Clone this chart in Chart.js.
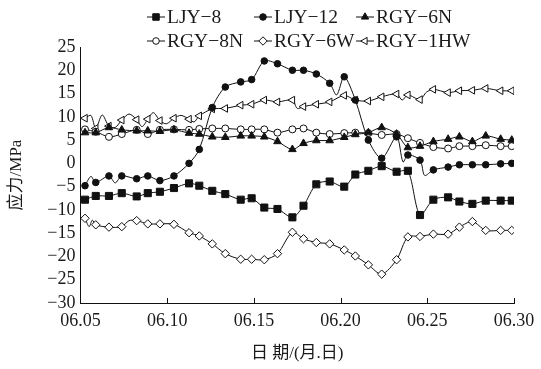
<!DOCTYPE html>
<html>
<head>
<meta charset="utf-8">
<script src="https://cdn.jsdelivr.net/npm/chart.js@4.4.1/dist/chart.umd.min.js"></script>
<style>
  html, body { margin: 0; padding: 0; background: #fff; }
  #wrap { width: 541px; height: 369px; }
</style>
</head>
<body>
<div id="wrap"><canvas id="chart"></canvas></div>
<script>
// marker positions (day of June)
const days = [5.26, 5.88, 6.64, 7.38, 8.24, 8.88, 9.58, 10.39, 11.26, 11.85, 12.6, 13.35, 14.24, 14.87, 15.6, 16.36, 17.22,
  17.86, 18.6, 19.37, 20.21, 20.85, 21.6, 22.37, 23.23, 23.88, 24.58, 25.35, 26.2, 26.85, 27.6, 28.37, 29.23, 29.87]

const ljy8 = [-7.8, -7.0, -7.0, -6.4, -7.1, -6.4, -6.1, -5.3, -4.3, -4.8, -5.9, -6.6, -7.8, -7.5, -9.5, -9.8, -11.6,
  -9.1, -4.5, -3.9, -5.0, -2.4, -1.6, -0.6, -1.8, -1.6, -11.1, -7.8, -7.3, -8.2, -8.7, -8.0, -8.0, -8.0]
const ljy12 = [-4.8, -4.1, -2.7, -2.7, -3.3, -2.7, -3.7, -2.7, 0.0, 3.0, 12.0, 16.4, 17.5, 18.0, 22.0, 21.4, 20.0,
  20.0, 19.2, 17.2, 18.6, 13.6, 5.0, 1.1, 5.7, 1.8, 0.7, -1.4, -0.8, -0.3, -0.3, -0.3, -0.1, 0.0]
const rgy6n = [6.6, 6.6, 7.7, 7.2, 7.0, 7.0, 6.9, 7.2, 6.5, 6.3, 5.7, 5.6, 5.9, 5.9, 5.7, 4.7, 3.0,
  4.3, 4.9, 4.9, 5.6, 6.2, 6.6, 7.7, 6.3, 3.4, 3.7, 4.7, 5.2, 5.7, 4.7, 5.9, 5.2, 5.0]
const rgy8n = [7.3, 6.8, 5.7, 6.3, 7.2, 6.3, 7.2, 7.3, 7.2, 7.4, 7.5, 7.5, 7.3, 7.3, 7.3, 6.6, 7.3,
  7.5, 6.6, 6.3, 6.5, 6.6, 6.5, 6.1, 6.3, 5.4, 4.4, 3.5, 3.2, 3.7, 3.7, 3.9, 3.7, 3.7]
const rgy6w = [-11.8, -13.2, -13.7, -13.6, -12.3, -13.0, -13.0, -13.1, -14.9, -15.6, -17.3, -19.4, -20.6, -20.6, -20.7, -19.4, -14.8,
  -16.2, -17.0, -17.3, -18.6, -19.9, -21.8, -23.8, -20.7, -15.8, -15.7, -15.2, -15.2, -13.7, -12.5, -14.4, -14.4, -14.4]
const rgy1hw = [9.7, 7.5, 8.0, 9.3, 9.4, 9.5, 9.2, 9.7, 9.5, 10.2, 11.7, 11.8, 12.5, 12.7, 13.6, 13.2, 13.6,
  12.2, 12.7, 13.2, 14.6, 13.6, 13.4, 14.3, 14.9, 14.7, 13.7, 15.9, 15.2, 15.6, 15.7, 16.1, 15.6, 15.6]

// unmarked readings between markers (wiggles of the curves)
const ljy12WiggleDays = [5.6, 7.0, 19.77, 23.6, 24.85]
const ljy12WiggleVals = [-2.8, -4.2, 14.7, 0.3, -2.6]
const rgy6wWiggleDays = [5.5, 5.68, 7.8]
const rgy6wWiggleVals = [-13.6, -12.2, -12.3]
const rgy1hwWiggleDays = [5.6, 6.25, 7.0, 7.8, 8.55, 9.2, 9.95, 10.8, 11.55, 17.5, 23.55, 24.95]
const rgy1hwWiggleVals = [10.3, 10.4, 7.7, 10.6, 7.9, 10.9, 8.5, 10.3, 8.9, 11.8, 13.6, 15.3]

const seriesNames = ['LJY\u22128', 'LJY\u221212', 'RGY\u22126N', 'RGY\u22128N', 'RGY\u22126W', 'RGY\u22121HW']
const tickValues = [5, 10, 15, 20, 25, 30]
const tickLabels = ['06.05', '06.10', '06.15', '06.20', '06.25', '06.30']
const yTickValues = [-30, -25, -20, -15, -10, -5, 0, 5, 10, 15, 20, 25]

const serif = "'Liberation Serif', 'Times New Roman', serif"
const cjk = "'Liberation Serif', 'Noto Sans CJK SC', serif"

function buildPoints(vals, wDays = [], wVals = []) {
  const pts = days.map((d, i) => ({ x: d, y: vals[i], m: true }))
  wDays.forEach((d, i) => pts.push({ x: d, y: wVals[i], m: false }))
  pts.sort((a, b) => a.x - b.x)
  return pts
}

function makeDataset(label, pts, style, fill, radius, rotation) {
  return {
    label: label,
    data: pts,
    borderColor: '#111',
    borderWidth: 1,
    backgroundColor: fill,
    pointStyle: style,
    pointRotation: rotation || 0,
    pointBackgroundColor: fill,
    pointBorderColor: '#111',
    pointBorderWidth: 1,
    pointRadius: ctx => (ctx.raw && ctx.raw.m ? radius : 0),
    pointHoverRadius: 0,
    tension: 0.3,
    fill: false
  }
}

const datasets = [
  makeDataset(seriesNames[0], buildPoints(ljy8), 'rect', '#111', 5.0),
  makeDataset(seriesNames[1], buildPoints(ljy12, ljy12WiggleDays, ljy12WiggleVals), 'circle', '#111', 3.3),
  makeDataset(seriesNames[2], buildPoints(rgy6n), 'triangle', '#111', 4.4),
  makeDataset(seriesNames[3], buildPoints(rgy8n), 'circle', '#fff', 3.5),
  makeDataset(seriesNames[4], buildPoints(rgy6w, rgy6wWiggleDays, rgy6wWiggleVals), 'rectRot', '#fff', 4.2),
  makeDataset(seriesNames[5], buildPoints(rgy1hw, rgy1hwWiggleDays, rgy1hwWiggleVals), 'triangle', '#fff', 4.4, -90)
]

// legend drawn as line + marker + name, in two rows of three
const legendPlugin = {
  id: 'lineLegend',
  afterDraw(chart) {
    const ctx = chart.ctx
    const colX = [147, 254, 356]
    const rowY = [17, 41]
    ctx.save()
    chart.data.datasets.forEach((ds, i) => {
      const x = colX[i % 3]
      const y = rowY[Math.floor(i / 3)]
      ctx.strokeStyle = '#111'
      ctx.lineWidth = 1
      ctx.beginPath()
      ctx.moveTo(x, y)
      ctx.lineTo(x + 18, y)
      ctx.stroke()
      ctx.fillStyle = ds.pointBackgroundColor
      const r = ds.pointStyle === 'rect' ? 4.6 : (ds.pointStyle === 'circle' ? 3.3 : 4.2)
      Chart.helpers.drawPoint(ctx, {
        pointStyle: ds.pointStyle, rotation: ds.pointRotation, radius: r, borderWidth: 1
      }, x + 9, y)
      ctx.fillStyle = '#1a1a1a'
      ctx.font = '19.5px ' + serif
      ctx.textBaseline = 'middle'
      ctx.textAlign = 'left'
      ctx.fillText(ds.label, x + 20, y + 1)
    })
    ctx.restore()
  }
}

// small inward tick marks on the date axis
const innerTicks = {
  id: 'innerTicks',
  afterDraw(chart) {
    const ctx = chart.ctx
    const xs = chart.scales.x
    const bottom = chart.chartArea.bottom
    ctx.save()
    ctx.strokeStyle = '#111'
    ctx.lineWidth = 1
    tickValues.slice(1).forEach(v => {
      const px = Math.round(xs.getPixelForValue(v)) + 0.5
      ctx.beginPath()
      ctx.moveTo(px, bottom)
      ctx.lineTo(px, bottom - 5)
      ctx.stroke()
    })
    ctx.restore()
  }
}

new Chart(document.getElementById('chart'), {
  type: 'line',
  data: { datasets: datasets },
  options: {
    responsive: true,
    maintainAspectRatio: false,
    animation: false,
    layout: { padding: { top: 47, right: 27, bottom: 0, left: 0 } },
    plugins: {
      legend: { display: false },
      tooltip: { enabled: false }
    },
    scales: {
      x: {
        type: 'linear',
        min: 5,
        max: 30,
        afterBuildTicks: scale => { scale.ticks = tickValues.map(v => ({ value: v })) },
        afterFit: scale => { scale.height = 66; scale.paddingLeft = 0; scale.paddingRight = 0 },
        grid: { display: false, drawTicks: false },
        border: { display: true, color: '#111', width: 1 },
        ticks: {
          color: '#1a1a1a',
          font: { family: serif, size: 18 },
          padding: 7,
          maxRotation: 0,
          autoSkip: false,
          callback: v => tickLabels[tickValues.indexOf(v)]
        },
        title: {
          display: true,
          text: '日 期/(月.日)',
          color: '#1a1a1a',
          font: { family: cjk, size: 17 },
          padding: { top: 0, bottom: 5 }
        }
      },
      y: {
        min: -30,
        max: 25,
        afterBuildTicks: scale => { scale.ticks = yTickValues.map(v => ({ value: v })) },
        afterFit: scale => { scale.width = 80.5; scale.paddingTop = 0; scale.paddingBottom = 0 },
        grid: { display: false, drawTicks: false },
        border: { display: true, color: '#111', width: 1 },
        ticks: {
          color: '#1a1a1a',
          font: { family: serif, size: 18, lineHeight: 1 },
          padding: 5,
          autoSkip: false,
          callback: v => String(v).replace('-', '\u2212')
        },
        title: {
          display: true,
          text: '应力/MPa',
          color: '#1a1a1a',
          font: { family: cjk, size: 17 },
          padding: { top: 6, bottom: 0 }
        }
      }
    }
  },
  plugins: [legendPlugin, innerTicks]
})
</script>
</body>
</html>
